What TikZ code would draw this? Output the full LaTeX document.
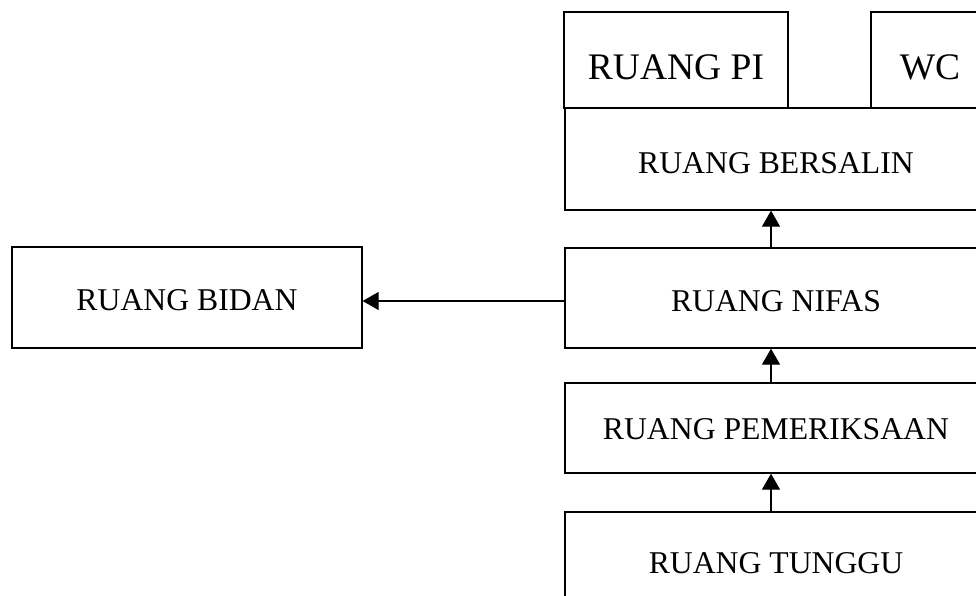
\documentclass[tikz,border=0pt]{standalone}
\usepackage{fontspec}
\setmainfont{Liberation Serif}
\usetikzlibrary{arrows.meta}
\newcommand{\lowertext}[2]{\raisebox{-#1pt}[\height][\depth]{#2}}
\begin{document}
\begin{tikzpicture}[x=1pt,y=-1pt,
  room/.style={draw, line width=1.3pt, rectangle, inner sep=0pt, font=\fontsize{31.7}{38}\selectfont},
  bigroom/.style={room, font=\fontsize{37.5}{45}\selectfont},
  conn/.style={line width=1.3pt, -{Triangle[width=18pt,length=16pt]}}]
\useasboundingbox (0,0) rectangle (976,596);
\clip (0,0) rectangle (976,596);
\node[room, minimum width=350pt, minimum height=101pt] (bidan) at (187,297.5) {\lowertext{3}{RUANG BIDAN}};
\node[room, minimum width=422pt, minimum height=100pt] (nifas) at (776,298) {\lowertext{3}{RUANG NIFAS}};
\node[room, minimum width=422pt, minimum height=102pt] (bersalin) at (776,159) {\lowertext{4}{RUANG BERSALIN}};
\node[bigroom, minimum width=224pt, minimum height=96pt] (pi) at (676,60) {\lowertext{7}{RUANG PI}};
\node[bigroom, minimum width=118pt, minimum height=96pt] (wc) at (930,60) {\lowertext{7}{WC}};
\node[room, minimum width=422pt, minimum height=90pt] (periksa) at (776,428) {\lowertext{1}{RUANG PEMERIKSAAN}};
\node[room, minimum width=422pt, minimum height=102pt] (tunggu) at (776,563) {RUANG TUNGGU};
\draw[conn] ([xshift=-5pt]nifas.north) -- ([xshift=-5pt]bersalin.south);
\draw[conn] ([xshift=-5pt]periksa.north) -- ([xshift=-5pt]nifas.south);
\draw[conn] ([xshift=-5pt]tunggu.north) -- ([xshift=-5pt]periksa.south);
\draw[conn] ([yshift=-3pt]nifas.west) -- ([yshift=-3pt]nifas.west -| bidan.east);
\end{tikzpicture}
\end{document}
